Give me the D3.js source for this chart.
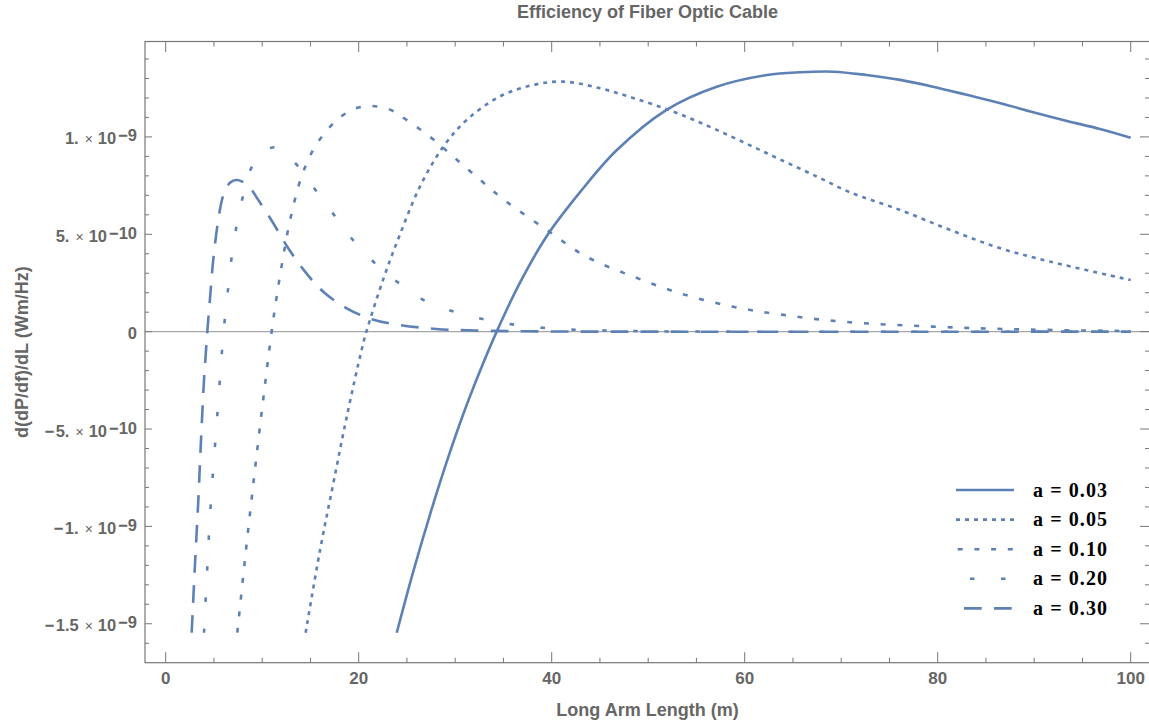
<!DOCTYPE html>
<html>
<head>
<meta charset="utf-8">
<script src="https://cdn.jsdelivr.net/npm/d3@7"></script>
<style>
  body { margin: 0; background: #fff; }
  svg { display: block; }
  .lbl { font-family: "Liberation Sans", Arial, sans-serif; fill: #666; }
</style>
</head>
<body>
<svg id="chart" width="1149" height="727"></svg>
<script>
// values in units of 1e-9 W m/Hz, x = long arm length (m)
let a003X = [23.94, 25.66, 27.39, 29.12, 30.84, 32.57, 34.3, 36.7, 39.48, 43.0, 46.7, 51.9, 57.1, 62.3, 65.7, 69.2, 72.6, 76.1, 79.5, 83.0, 86.5, 89.9, 93.4, 96.8, 100];
let a003Y = [-1.546, -1.231, -0.939, -0.669, -0.423, -0.202, 0, 0.25, 0.49, 0.72, 0.93, 1.139, 1.258, 1.318, 1.332, 1.335, 1.318, 1.293, 1.258, 1.216, 1.173, 1.127, 1.082, 1.041, 0.996];

let a005X = [14.5, 16.0, 17.37, 18.76, 20.3, 20.8, 22.55, 24.28, 26.35, 28.77, 31.19, 34.6, 38.1, 41.2, 45.0, 48.5, 52.6, 57.1, 62.3, 67.5, 70.9, 76.1, 81.3, 86.5, 91.6, 100];
let a005Y = [-1.546, -1.121, -0.779, -0.437, -0.094, 0, 0.27, 0.50, 0.745, 0.95, 1.087, 1.207, 1.267, 1.284, 1.25, 1.199, 1.13, 1.036, 0.916, 0.796, 0.716, 0.625, 0.522, 0.428, 0.36, 0.265];

let a010X = [7.42, 8.3, 9.2, 10.1, 10.98, 11.5, 12.12, 12.88, 14.1, 15.47, 17.0, 18.06, 19.6, 21.35, 23.24, 24.28, 27.4, 29.8, 32.6, 35.3, 39.5, 43.6, 48.5, 53.3, 58.8, 64.0, 70.2, 79.5, 88.2, 100];
let a010Y = [-1.546, -1.13, -0.73, -0.35, 0, 0.18, 0.368, 0.57, 0.80, 0.95, 1.05, 1.10, 1.145, 1.159, 1.14, 1.11, 1.0, 0.899, 0.779, 0.668, 0.522, 0.385, 0.282, 0.197, 0.128, 0.086, 0.051, 0.026, 0.012, 0.003];

let a020X = [3.97, 4.3, 4.66, 5.3, 6.0, 6.49, 6.84, 7.36, 8.04, 9.02, 10.2, 11.33, 12.5, 13.74, 15.65, 17.65, 19.6, 21.87, 24.28, 27.05, 30.2, 33.3, 36.4, 39.8, 42.9, 50, 60, 100];
let a020Y = [-1.546, -1.22, -0.89, -0.46, 0, 0.231, 0.385, 0.548, 0.702, 0.856, 0.925, 0.947, 0.91, 0.848, 0.719, 0.586, 0.459, 0.343, 0.245, 0.154, 0.098, 0.060, 0.034, 0.017, 0.009, 0.002, 0, 0];

let a030X = [2.69, 3.04, 3.38, 3.66, 3.97, 4.18, 4.31, 4.59, 4.93, 5.45, 5.97, 6.66, 7.42, 8.56, 9.6, 11.15, 12.7, 14.44, 16.33, 18.76, 21.35, 24.28, 28, 32, 40, 50, 100];
let a030Y = [-1.546, -1.19, -0.864, -0.556, -0.248, -0.094, 0, 0.17, 0.37, 0.574, 0.70, 0.765, 0.779, 0.748, 0.676, 0.557, 0.428, 0.308, 0.205, 0.12, 0.064, 0.034, 0.014, 0.006, 0.001, 0, 0];

let seriesNames = ["a = 0.03", "a = 0.05", "a = 0.10", "a = 0.20", "a = 0.30"];

let xTicks = [0, 20, 40, 60, 80, 100];
let yTicks = [-1.5, -1, -0.5, 0, 0.5, 1];
let yTickMant = ["\u2212\u200A1.5", "\u2212\u200A1.", "\u2212\u200A5.", "0", "5.", "1."];
let yTickExp = ["\u22129", "\u22129", "\u221210", "", "\u221210", "\u22129"];

// line styles per series (dash pattern, legend offset)
let dashes = [null, "4,5", "5,11.7", "4.5,26.5", "17.7,12.3"];
let legendOffsets = [0, 0, 15, 17, 22];

let series = [
  {name: seriesNames[0], x: a003X, y: a003Y},
  {name: seriesNames[1], x: a005X, y: a005Y},
  {name: seriesNames[2], x: a010X, y: a010Y},
  {name: seriesNames[3], x: a020X, y: a020Y},
  {name: seriesNames[4], x: a030X, y: a030Y}
];

let svg = d3.select("#chart");
let blue = "#5e81b5";
let frameColor = "#777";

let pLeft = 145, pRight = 1150, pTop = 41.5, pBottom = 662.7;
let x = d3.scaleLinear().domain([-2.145, 102]).range([pLeft, pRight]);
let y = d3.scaleLinear().domain([-1.70, 1.49]).range([pBottom, pTop]);

svg.append("defs").append("clipPath").attr("id", "plotclip")
  .append("rect").attr("x", pLeft).attr("y", pTop)
  .attr("width", pRight - pLeft).attr("height", pBottom - pTop);

// zero axis line
svg.append("line")
  .attr("x1", pLeft).attr("x2", pRight)
  .attr("y1", y(0)).attr("y2", y(0))
  .attr("stroke", "#a6a6a6").attr("stroke-width", 1.3);

// curves
let line = d3.line()
  .x(d => x(d[0]))
  .y(d => y(d[1]))
  .curve(d3.curveCatmullRom.alpha(0.5));

let plot = svg.append("g").attr("clip-path", "url(#plotclip)");
series.forEach(function(s, i) {
  let pts = s.x.map((v, j) => [v, s.y[j]]);
  plot.append("path")
    .datum(pts)
    .attr("d", line)
    .attr("fill", "none")
    .attr("stroke", blue)
    .attr("stroke-width", 2.6)
    .attr("stroke-dasharray", dashes[i]);
});

// frame
svg.append("rect")
  .attr("x", pLeft).attr("y", pTop)
  .attr("width", pRight - pLeft).attr("height", pBottom - pTop)
  .attr("fill", "none").attr("stroke", frameColor).attr("stroke-width", 1.2);

// ticks
let xMinor = d3.range(0, 101, 5).filter(v => xTicks.indexOf(v) < 0);
let yMinor = d3.range(-16, 15).map(v => v / 10).filter(v => yTicks.indexOf(v) < 0);

let tickG = svg.append("g").attr("stroke", frameColor).attr("stroke-width", 1);
xTicks.forEach(function(v) {
  tickG.append("line").attr("x1", x(v)).attr("x2", x(v)).attr("y1", pBottom).attr("y2", pBottom - 10.5);
  tickG.append("line").attr("x1", x(v)).attr("x2", x(v)).attr("y1", pTop).attr("y2", pTop + 10.5);
});
xMinor.forEach(function(v) {
  tickG.append("line").attr("x1", x(v)).attr("x2", x(v)).attr("y1", pBottom).attr("y2", pBottom - 5);
  tickG.append("line").attr("x1", x(v)).attr("x2", x(v)).attr("y1", pTop).attr("y2", pTop + 5);
});
yTicks.forEach(function(v) {
  tickG.append("line").attr("x1", pLeft).attr("x2", pLeft + 7).attr("y1", y(v)).attr("y2", y(v));
  tickG.append("line").attr("x1", pRight).attr("x2", pRight - 10).attr("y1", y(v)).attr("y2", y(v));
});
yMinor.forEach(function(v) {
  tickG.append("line").attr("x1", pLeft).attr("x2", pLeft + 4).attr("y1", y(v)).attr("y2", y(v));
  tickG.append("line").attr("x1", pRight).attr("x2", pRight - 5).attr("y1", y(v)).attr("y2", y(v));
});

// x tick labels
svg.append("g").selectAll("text").data(xTicks).join("text")
  .attr("class", "lbl")
  .attr("x", d => x(d))
  .attr("y", 684)
  .attr("text-anchor", "middle")
  .style("font-size", "17px").style("font-weight", "bold")
  .text(d => d);

// y tick labels
yTicks.forEach(function(v, i) {
  let t = svg.append("text").attr("class", "lbl")
    .attr("x", 137).attr("y", y(v) + 7.5)
    .attr("text-anchor", "end")
    .style("font-size", "16.5px").style("font-weight", "bold");
  t.append("tspan").text(yTickMant[i]);
  if (yTickExp[i] != "") {
    t.append("tspan").attr("dx", 6).style("font-size", "14px").style("font-weight", "normal").text("\u00D7");
    t.append("tspan").attr("dx", 5).text("10");
    t.append("tspan").attr("dx", 2).attr("dy", -3).text(yTickExp[i]);
  }
});

// title and axis labels
svg.append("text").attr("class", "lbl")
  .attr("x", 647.5).attr("y", 18)
  .attr("text-anchor", "middle")
  .style("font-size", "18px").style("font-weight", "bold")
  .text("Efficiency of Fiber Optic Cable");

svg.append("text").attr("class", "lbl")
  .attr("x", 647.5).attr("y", 716)
  .attr("text-anchor", "middle")
  .style("font-size", "18px").style("font-weight", "bold")
  .text("Long Arm Length (m)");

svg.append("text").attr("class", "lbl")
  .attr("transform", "translate(28," + ((pTop + pBottom) / 2) + ") rotate(-90)")
  .attr("text-anchor", "middle")
  .style("font-size", "18px").style("font-weight", "bold")
  .text("d(dP/df)/dL (Wm/Hz)");

// legend
let legend = svg.append("g");
series.forEach(function(s, i) {
  let ly = 490 + i * 29.6;
  legend.append("line")
    .attr("x1", 956).attr("x2", 1014)
    .attr("y1", ly).attr("y2", ly)
    .attr("stroke", blue).attr("stroke-width", 2.6)
    .attr("stroke-dasharray", dashes[i])
    .attr("stroke-dashoffset", legendOffsets[i]);
  legend.append("text")
    .attr("x", 1033).attr("y", ly + 6.5)
    .attr("textLength", 74).attr("lengthAdjust", "spacing")
    .style("font-family", "'Liberation Serif', 'Times New Roman', serif")
    .style("font-weight", "bold").style("font-size", "20px")
    .attr("fill", "#000")
    .text(s.name);
});
</script>
</body>
</html>
